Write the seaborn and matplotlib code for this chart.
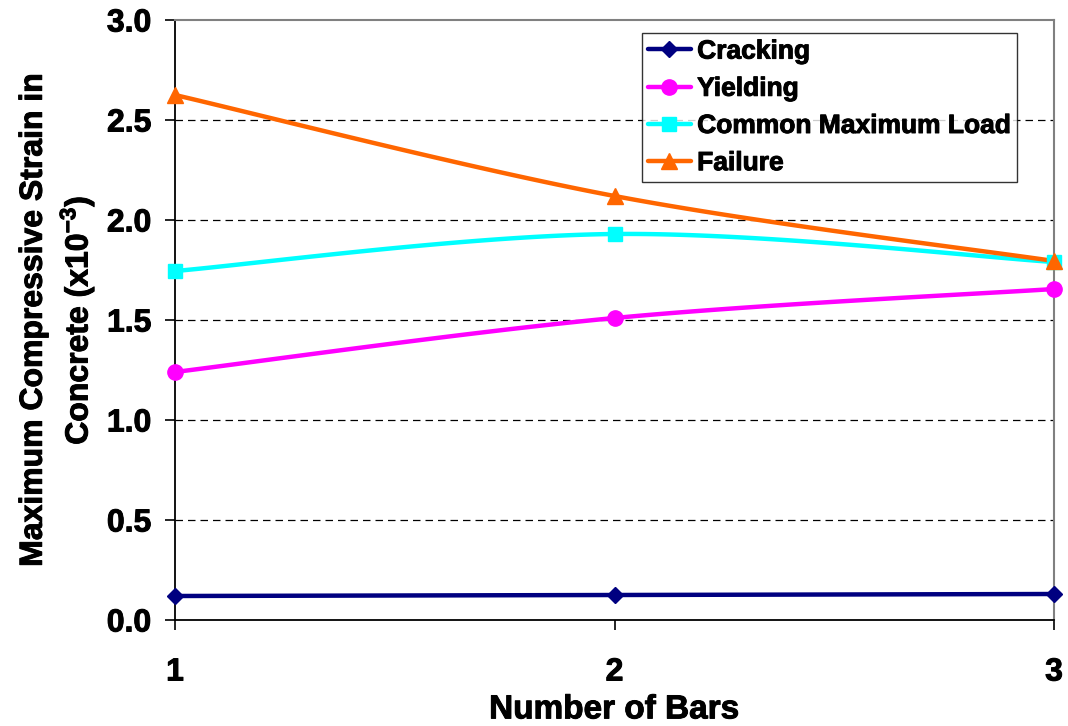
import numpy as np
import pandas as pd
import matplotlib
matplotlib.use("Agg")
import matplotlib.pyplot as plt
import matplotlib.patheffects as pe
from matplotlib.lines import Line2D
import seaborn as sns

# Data: maximum compressive strain in concrete (x10^-3) vs number of bars
bars = [1, 2, 3]
cracking = [0.12, 0.125, 0.13]
yielding = [1.24, 1.51, 1.655]
common_max_load = [1.745, 1.93, 1.79]
failure = [2.625, 2.12, 1.795]

series_names = ["Cracking", "Yielding", "Common Maximum Load", "Failure"]
series_values = [cracking, yielding, common_max_load, failure]
colors = ["#000080", "#FF00FF", "#00FFFF", "#FF6600"]
markers = ["D", "o", "s", "^"]
marker_sizes = [8, 11, 10, 11]


def smooth_curve(x, y, n=60):
    """Catmull-Rom style cubic Bezier smoothing through every point."""
    x = np.asarray(x, float)
    y = np.asarray(y, float)
    P = np.column_stack([x, y])
    m = len(P)
    out = []
    for i in range(m - 1):
        p0 = P[max(i - 1, 0)]
        p1 = P[i]
        p2 = P[i + 1]
        p3 = P[min(i + 2, m - 1)]
        c1 = p1 + (p2 - p0) / 6.0
        c2 = p2 - (p3 - p1) / 6.0
        t = np.linspace(0, 1, n)[:, None]
        seg = ((1 - t) ** 3) * p1 + 3 * ((1 - t) ** 2) * t * c1 \
            + 3 * (1 - t) * t ** 2 * c2 + t ** 3 * p2
        if i > 0:
            seg = seg[1:]
        out.append(seg)
    return np.vstack(out)


rows = []
for name, vals in zip(series_names, series_values):
    curve = smooth_curve(bars, vals)
    for k, (cx, cy) in enumerate(curve):
        rows.append({"series": name, "order": k, "bars": cx, "strain": cy})
curves = pd.DataFrame(rows)

points = pd.DataFrame({
    "series": np.repeat(series_names, len(bars)),
    "bars": bars * len(series_names),
    "strain": np.concatenate(series_values),
})

sns.set_theme(style="white")
plt.rcParams["font.family"] = ["Liberation Sans", "DejaVu Sans"]
plt.rcParams["font.weight"] = "bold"
plt.rcParams["mathtext.fontset"] = "custom"
plt.rcParams["mathtext.rm"] = "Liberation Sans:bold"
plt.rcParams["mathtext.bf"] = "Liberation Sans:bold"
for key in ["text.color", "axes.labelcolor", "xtick.color", "ytick.color"]:
    plt.rcParams[key] = "black"

heavy = [pe.withStroke(linewidth=0.7, foreground="black")]

fig = plt.figure(figsize=(10.68, 7.26), dpi=100)
ax = fig.add_axes([175 / 1068, 1 - 620 / 726, 879 / 1068, 600 / 726])

palette = dict(zip(series_names, colors))

# dashed horizontal gridlines
for gy in [0.5, 1.0, 1.5, 2.0, 2.5]:
    ax.axhline(gy, color="black", lw=0.9, ls=(0, (6, 4)), zorder=1)

sns.lineplot(data=curves, x="bars", y="strain", hue="series", units="series",
             estimator=None, sort=False, palette=palette, lw=3.2,
             legend=False, ax=ax, zorder=3)
for c in ax.lines[-4:]:
    c.set_clip_on(False)

for name, col, mk, ms in zip(series_names, colors, markers, marker_sizes):
    sub = points[points["series"] == name]
    ax.plot(sub["bars"], sub["strain"], ls="none", marker=mk, ms=ms,
            color=col, markeredgecolor=col, clip_on=False, zorder=4)

ax.set_xlim(1, 3)
ax.set_ylim(0, 3)
ax.set_xticks(bars)
ax.set_xticklabels([str(b) for b in bars])
ax.set_yticks(np.arange(0, 3.01, 0.5))
ax.set_yticklabels([f"{v:.1f}" for v in np.arange(0, 3.01, 0.5)])
ax.tick_params(axis="both", which="major", direction="out", length=7,
               width=1.2, color="black", labelsize=23)
ax.tick_params(axis="y", pad=10)
ax.tick_params(axis="x", pad=20)
ax.tick_params(left=True, bottom=True)
for lab in ax.get_xticklabels() + ax.get_yticklabels():
    lab.set_fontweight("bold")
    lab.set_path_effects(heavy)

for side in ["left", "bottom"]:
    ax.spines[side].set_color("black")
    ax.spines[side].set_linewidth(1.3)
for side in ["top", "right"]:
    ax.spines[side].set_color("#808080")
    ax.spines[side].set_linewidth(1.5)

ax.set_xlabel("Number of Bars", fontsize=24, fontweight="bold",
              path_effects=heavy)
ax.xaxis.set_label_coords(0.5, -0.124)
ax.set_ylabel("Maximum Compressive Strain in\nConcrete (x10$^{-3}$)",
              fontsize=23, fontweight="bold", linespacing=1.3,
              path_effects=heavy)
ax.yaxis.set_label_coords(-0.089, 0.5)

handles = [Line2D([0], [0], color=c, lw=3.2, marker=m, ms=s,
                  markeredgecolor=c)
           for c, m, s in zip(colors, markers, marker_sizes)]
leg = ax.legend(handles, series_names, loc="upper right",
                bbox_to_anchor=((1017 - 175) / 879, 1 - 13 / 600),
                frameon=True, fancybox=False, edgecolor="black",
                prop={"size": 19, "weight": "bold"}, handlelength=1.6,
                handletextpad=0.25, labelspacing=0.5, borderpad=0.25,
                borderaxespad=0)
leg.get_frame().set_linewidth(1.0)
for t in leg.get_texts():
    t.set_path_effects(heavy)

fig.savefig("out.png", dpi=100)
